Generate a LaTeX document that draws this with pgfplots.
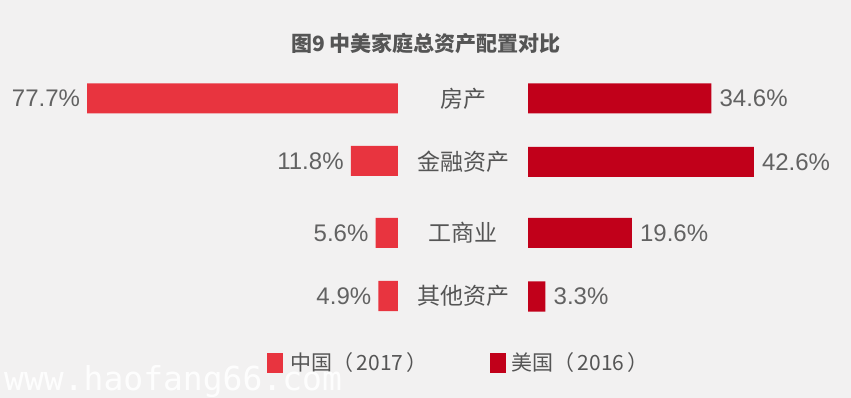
\documentclass[border=0pt]{standalone}
\usepackage{fontspec}
\setmainfont{Noto Sans CJK SC}
\newfontfamily\numfont{Liberation Sans}
\newfontfamily\wmfont{DejaVu Sans Mono}
\usepackage{pgfplots}
\pgfplotsset{compat=1.18}
\definecolor{bgc}{HTML}{F2F1F1}
\definecolor{cnred}{HTML}{E8343F}
\definecolor{usred}{HTML}{C1001A}
\definecolor{txt}{HTML}{555555}
\definecolor{numc}{HTML}{626262}
\begin{document}
\begin{tikzpicture}[x=1pt,y=1pt]
\fill[bgc] (0,0) rectangle (851,398);
\pgfplotsset{
  half/.style={
    scale only axis, height=398pt, ymin=0, ymax=398, y dir=reverse,
    hide axis, clip=false, xbar, bar width=30,
    nodes near coords={\pgfmathprintnumber[fixed,fixed zerofill,precision=1,assume math mode=true]{\pgfplotspointmeta}\%},
    every node near coord/.append style={font=\numfont\fontsize{24}{24}\selectfont, text=numc, inner sep=0pt},
  }
}
% China (2017), bars run leftwards
\begin{axis}[half, at={(0pt,0pt)}, anchor=south west, width=398pt,
  xmin=0, xmax=99.5, x dir=reverse,
  nodes near coords align={anchor=east},
  every node near coord/.append style={anchor=east, xshift=-7pt}]
\addplot[fill=cnred, draw=none] coordinates {(77.7,98.5) (11.8,161) (5.6,233) (4.9,296)};
\end{axis}
% USA (2016), bars run rightwards
\begin{axis}[half, at={(528pt,0pt)}, anchor=south west, width=323pt,
  xmin=0, xmax=60.94,
  every node near coord/.append style={anchor=west, xshift=8pt}]
\addplot[fill=usred, draw=none] coordinates {(34.6,98.5) (42.6,162) (19.6,233) (3.3,296.5)};
\end{axis}
% title
\node[font=\bfseries\fontsize{21}{21}\selectfont, text=txt] at (426,398-44) {图9 中美家庭总资产配置对比};
% categories
\begin{scope}[every node/.style={font=\fontsize{23}{23}\selectfont, text=txt}]
\node at (463,398-98.5) {房产};
\node at (463,398-161.5) {金融资产};
\node at (463,398-233) {工商业};
\node at (463,398-296) {其他资产};
\end{scope}
% legend
\fill[cnred] (267,398-373) rectangle (283,398-353);
\node[anchor=west, inner sep=0pt, font=\fontsize{21}{21}\selectfont, text=txt] at (290,398-363) {中国（\,2017\,）};
\fill[usred] (490,398-373) rectangle (506,398-353);
\node[anchor=west, inner sep=0pt, font=\fontsize{21}{21}\selectfont, text=txt] at (511,398-363) {美国（\,2016\,）};
% watermark
\node[anchor=base west, inner sep=0pt, font=\wmfont\fontsize{33}{33}\selectfont, text=white, opacity=0.9] at (4,398-391) {www.haofang66.com};
\pgfresetboundingbox
\useasboundingbox (0,0) rectangle (851,398);
\end{tikzpicture}
\end{document}
